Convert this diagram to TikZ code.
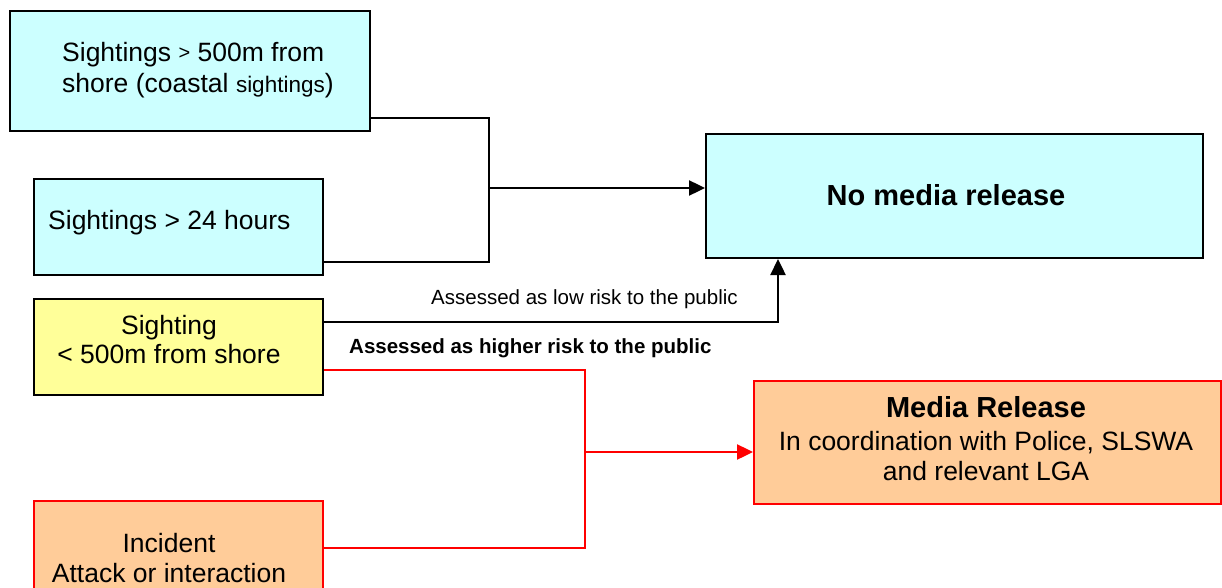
\documentclass[tikz,border=0pt]{standalone}
\usepackage{fontspec}
\setmainfont{Liberation Sans}
\usetikzlibrary{arrows.meta}
\definecolor{paleCyan}{HTML}{CCFFFF}
\definecolor{paleYellow}{HTML}{FFFF99}
\definecolor{paleOrange}{HTML}{FFCC99}
\definecolor{lineRed}{HTML}{FF0000}
\newcommand{\bigtxt}{\fontsize{26.5}{31}\selectfont}
\newcommand{\smalltxt}{\fontsize{20.5}{24}\selectfont}
\newcommand{\titletxt}{\fontsize{29}{33}\selectfont\bfseries}
\begin{document}
\begin{tikzpicture}[x=1pt,y=-1pt,
  box/.style={draw=black,line width=2pt,inner sep=0pt,anchor=north west},
  redbox/.style={draw=lineRed,line width=2pt,inner sep=0pt,anchor=north west},
  txt/.style={inner sep=0pt,font=\bigtxt},
  conn/.style={draw=black,line width=2.4pt},
  redconn/.style={draw=lineRed,line width=2.4pt},
  tip/.style={-{Triangle[length=16pt,width=15pt]}}]
\useasboundingbox (0,0) rectangle (1222,588);
\clip (0,0) rectangle (1222,588);

% boxes
\node[box,fill=paleCyan,minimum width=360pt,minimum height=120pt] (b1) at (9,10) {};
\node[box,fill=paleCyan,minimum width=289pt,minimum height=96pt] (b2) at (33,178) {};
\node[box,fill=paleYellow,minimum width=289pt,minimum height=96pt] (ys) at (33,298) {};
\node[redbox,fill=paleOrange,minimum width=289pt,minimum height=130pt] (inc) at (33,500) {};
\node[box,fill=paleCyan,minimum width=497pt,minimum height=124pt] (nm) at (705,133) {};
\node[redbox,fill=paleOrange,minimum width=467pt,minimum height=123pt] (mr) at (753,380) {};

% box texts
\node[txt,anchor=base west] (t1a) at (62,62) {Sightings \raisebox{2pt}{\fontsize{20}{24}\selectfont >} 500m from};
\node[txt,anchor=base west] (t1b) at (62,93) {shore (coastal {\fontsize{22.5}{26}\selectfont sightings})};
\node[txt,anchor=base west] (t2) at (48,229) {Sightings > 24 hours};
\node[txt,anchor=base] (t3a) at (169,334) {Sighting};
\node[txt,anchor=base] (t3b) at (169,363) {< 500m from shore};
\node[txt,anchor=base] (t4a) at (169,552) {Incident};
\node[txt,anchor=base] (t4b) at (169,582) {Attack or interaction};
\node[txt,anchor=base,font=\titletxt] (t5) at (946,205) {No media release};
\node[txt,anchor=base,font=\titletxt] (t6a) at (986,417) {Media Release};
\node[txt,anchor=base] (t6b) at (986,450) {In coordination with Police, SLSWA};
\node[txt,anchor=base] (t6c) at (986,480) {and relevant LGA};

% connector labels
\node[txt,anchor=base west,font=\smalltxt] (lowrisk) at (431,304) {Assessed as low risk to the public};
\node[txt,anchor=base west,font=\smalltxt\bfseries] (highrisk) at (349,353) {Assessed as higher risk to the public};

% joints of the connectors
\coordinate (j1) at (489,188);
\coordinate (k1) at (778,322);
\coordinate (r1) at (585,370);
\coordinate (r2) at (585,548);
\coordinate (r3) at (585,452);

% black connectors
\draw[conn] ([yshift=14pt]b1.south east) -| (j1) |- ([yshift=14pt]b2.south east);
\draw[conn,tip] (j1) -- (j1 -| nm.west);
\draw[conn,tip] (ys.east |- k1) -- (k1) -- (k1 |- nm.south);

% red connectors
\draw[redconn] (ys.east |- r1) -- (r1) -- (r2) -- (inc.east |- r2);
\draw[redconn,tip] (r3) -- (r3 -| mr.west);
\end{tikzpicture}
\end{document}
